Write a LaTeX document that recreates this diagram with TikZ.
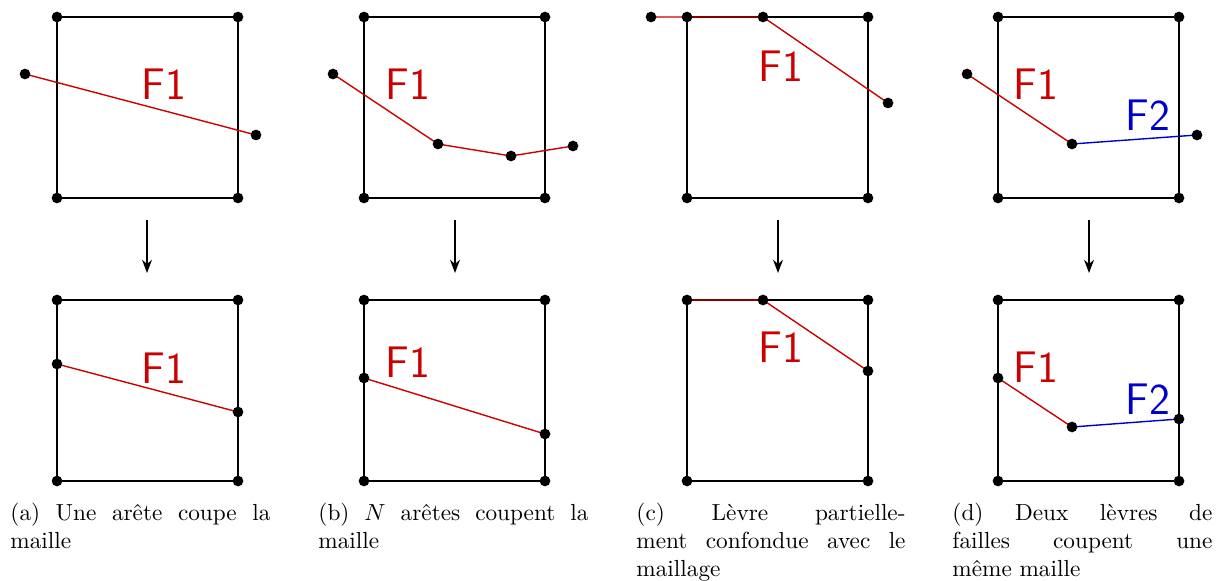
\documentclass[tikz,border=0pt]{standalone}
\usepackage{tikz}
\usetikzlibrary{arrows.meta}
\definecolor{failred}{RGB}{204,0,0}
\definecolor{failblue}{RGB}{0,0,204}

\begin{document}
\begin{tikzpicture}[x=0.43pt,y=-0.43pt,>=Stealth,
  maille/.style={line width=0.8pt},
  levre/.style={line width=0.6pt,failred},
  levreb/.style={line width=0.6pt,failblue},
  flab/.style={inner sep=0pt,font=\fontsize{19}{23}\selectfont\sffamily},
  legende/.style={anchor=base west,inner sep=0pt,align=left,font=\fontsize{10}{12}\selectfont}]
\useasboundingbox (0,0) rectangle (1219,581);
% mailles
\foreach \n/\x/\y in {at/57/17,ab/57/300,bt/364/17,bb/364/300,ct/687/17,cb/687/300,dt/998/17,db/998/300}{
  \coordinate (\n1) at (\x,\y); \coordinate (\n2) at (\x+181,\y);
  \coordinate (\n3) at (\x+181,\y+181); \coordinate (\n4) at (\x,\y+181);
  \draw[maille] (\n1)--(\n2)--(\n3)--(\n4)--cycle;
}
% fleches
\foreach \n/\x in {a/147,b/455,c/778,d/1089}{
  \coordinate (\n from) at (\x,220); \coordinate (\n to) at (\x,273);
  \draw[->,line width=0.6pt] (\n from)--(\n to);
}
% (a)
\coordinate (ap1) at (25,74); \coordinate (ap2) at (256,135);
\coordinate (aq1) at (57,364); \coordinate (aq2) at (238,412);
\draw[levre] (ap1)--(ap2); \draw[levre] (aq1)--(aq2);
\node[flab,failred] (aF) at (164,84) {F1}; \node[flab,failred] (aG) at (164,368) {F1};
% (b)
\coordinate (bp1) at (333,74); \coordinate (bp2) at (438,144); \coordinate (bp3) at (511,156); \coordinate (bp4) at (573,146);
\coordinate (bq1) at (364,378); \coordinate (bq2) at (545,434);
\draw[levre] (bp1)--(bp2)--(bp3)--(bp4); \draw[levre] (bq1)--(bq2);
\node[flab,failred] (bF) at (408,84) {F1}; \node[flab,failred] (bG) at (408,362) {F1};
% (c)
\coordinate (cp1) at (651,17); \coordinate (cp2) at (763,17); \coordinate (cp3) at (888,103);
\coordinate (cq1) at (687,300); \coordinate (cq2) at (763,300); \coordinate (cq3) at (868,371);
\draw[levre] (cp1)--(cp2)--(cp3); \draw[levre] (cq1)--(cq2)--(cq3);
\node[flab,failred] (cF) at (781,66) {F1}; \node[flab,failred] (cG) at (781,347) {F1};
% (d)
\coordinate (dp1) at (967,74); \coordinate (dp2) at (1072,144); \coordinate (dp3) at (1197,135);
\coordinate (dq1) at (998,378); \coordinate (dq2) at (1072,427); \coordinate (dq3) at (1179,419);
\draw[levre] (dp1)--(dp2); \draw[levreb] (dp2)--(dp3);
\draw[levre] (dq1)--(dq2); \draw[levreb] (dq2)--(dq3);
\node[flab,failred] (dF) at (1036,84) {F1}; \node[flab,failblue] (dH) at (1148,115) {F2};
\node[flab,failred] (dG) at (1036,367) {F1}; \node[flab,failblue] (dK) at (1148,399) {F2};
% points
\foreach \n in {at,ab,bt,bb,ct,cb,dt,db}
  \foreach \k in {1,...,4} \fill (\n\k) circle (2.3pt);
\foreach \p in {ap1,ap2,aq1,aq2,bp1,bp2,bp3,bp4,bq1,bq2,cp1,cp2,cp3,cq2,cq3,dp1,dp2,dp3,dq1,dq2,dq3}
  \fill (\p) circle (2.3pt);
% legendes (ancre sur la derniere ligne)
\node[legende] (la) at (10,548) {\makebox[111.8pt][s]{(a) Une arête coupe la}\\maille};
\node[legende] (lb) at (318,548) {\makebox[116.1pt][s]{(b) $N$ arêtes coupent la}\\maille};
\node[legende] (lc) at (636,576) {\makebox[115.7pt][s]{(c) Lèvre partielle-}\\\makebox[115.7pt][s]{ment confondue avec le}\\maillage};
\node[legende] (ld) at (952,576) {\makebox[111.8pt][s]{(d) Deux lèvres de}\\\makebox[111.8pt][s]{failles coupent une}\\même maille};
\end{tikzpicture}
\end{document}
